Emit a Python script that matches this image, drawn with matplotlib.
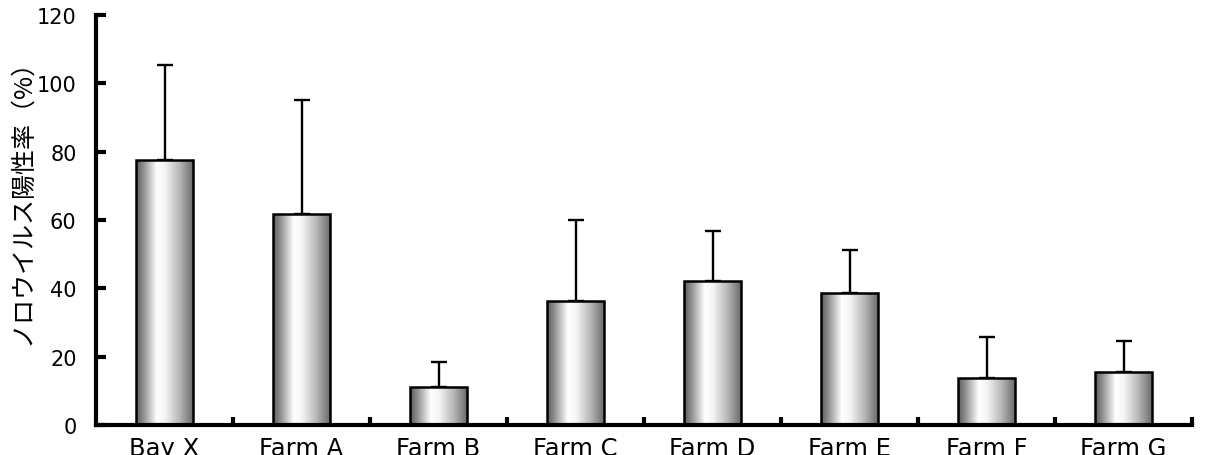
import numpy as np
import matplotlib; matplotlib.use("Agg")
import matplotlib.pyplot as plt
from matplotlib.colors import LinearSegmentedColormap
from matplotlib.ticker import FixedLocator

sites = ["Bay X", "Farm A", "Farm B", "Farm C", "Farm D", "Farm E", "Farm F", "Farm G"]
rate = [77.5, 61.8, 11.1, 36.3, 42.1, 38.6, 13.8, 15.5]      # positive rate (%)
sd = [27.9, 33.3, 7.3, 23.7, 14.7, 12.6, 12.0, 9.1]          # upper error
yticks = [0, 20, 40, 60, 80, 100, 120]
ylabel = "ノロウイルス陽性率（%）"

# cylinder-like shading across each bar
shade = LinearSegmentedColormap.from_list("cyl", [
    (0.0, (0.36,)*3), (0.12, (0.55,)*3), (0.36, (1.0,)*3), (0.5, (0.96,)*3),
    (0.75, (0.72,)*3), (1.0, (0.40,)*3)])

fig = plt.figure(figsize=(12.12, 4.56), dpi=100)
ax = fig.add_axes([96/1212, 1-426/456, 1096/1212, 410/456])
x = np.arange(len(sites))
bw = 0.42
bars = ax.bar(x, rate, width=bw, facecolor="none", edgecolor="black", linewidth=1.8, zorder=3)
grad = np.linspace(0, 1, 256).reshape(1, -1)
for b in bars:
    x0, y0, w, h = b.get_x(), b.get_y(), b.get_width(), b.get_height()
    im = ax.imshow(grad, cmap=shade, aspect="auto", extent=(x0, x0+w, y0, y0+h),
                   interpolation="bilinear", zorder=2)
    im.set_clip_path(b)
ax.errorbar(x, rate, yerr=[np.zeros(len(rate)), sd], fmt="none", ecolor="black",
            elinewidth=1.7, capsize=6, capthick=1.7, zorder=1)

ax.set_xlim(-0.5, len(sites)-0.5); ax.set_ylim(0, 120)
ax.set_xticks(x); ax.set_xticklabels(sites, fontsize=17.5, family="DejaVu Sans")
ax.xaxis.set_minor_locator(FixedLocator(np.arange(0.5, len(sites), 1.0)))
ax.tick_params(axis="x", which="major", length=0, pad=8)
ax.tick_params(axis="x", which="minor", direction="in", length=6, width=3)
ax.set_yticks(yticks)
ax.tick_params(axis="y", direction="in", length=7, width=3, labelsize=15, pad=14)
for s in ("top", "right"): ax.spines[s].set_visible(False)
for s in ("left", "bottom"): ax.spines[s].set_linewidth(3)
ax.set_ylabel(ylabel, fontsize=18, family=["Noto Sans CJK JP", "DejaVu Sans"], va="center")
ax.yaxis.set_label_coords(-0.0675, 0.562)
fig.savefig("out.png", dpi=100)
